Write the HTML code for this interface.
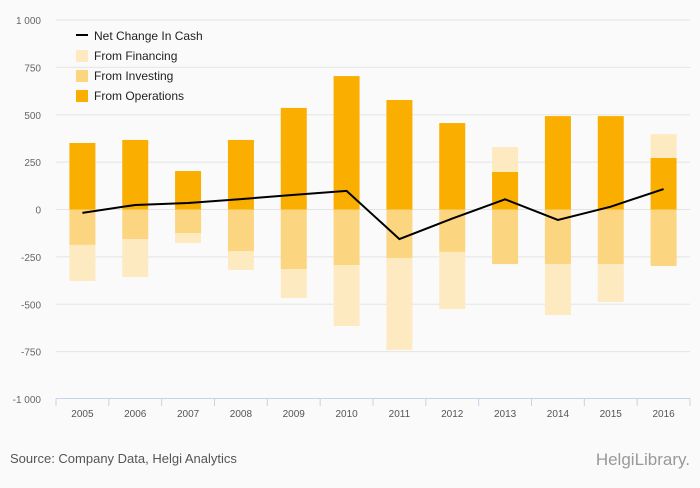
<!DOCTYPE html>
<html><head><meta charset="utf-8"><style>
body{margin:0;background:#fafafa;font-family:"Liberation Sans",sans-serif;}
svg text{font-family:"Liberation Sans",sans-serif;}
</style></head><body>
<svg id="chart" width="700" height="483" xmlns="http://www.w3.org/2000/svg">
<rect width="700" height="483" fill="#fafafa"/>
<g id="grid"></g><g id="bars"></g><g id="line"></g><g id="axes"></g>
<g>
<line x1="76" y1="35" x2="88" y2="35" stroke="#000" stroke-width="2"/>
<text x="94" y="40" font-size="12" fill="#222">Net Change In Cash</text>
<rect x="76" y="50" width="12" height="12" fill="#feeac0"/>
<text x="94" y="60" font-size="12" fill="#222">From Financing</text>
<rect x="76" y="70" width="12" height="12" fill="#fcd581"/>
<text x="94" y="80" font-size="12" fill="#222">From Investing</text>
<rect x="76" y="90" width="12" height="12" fill="#f9ae00"/>
<text x="94" y="100" font-size="12" fill="#222">From Operations</text>
</g>
<text x="10" y="463" font-size="13" fill="#555">Source: Company Data, Helgi Analytics</text>
<text x="690" y="465" font-size="17" fill="#999" text-anchor="end" font-family="Liberation Serif">HelgiLibrary.</text>
</svg>
<script>
const years=["2005","2006","2007","2008","2009","2010","2011","2012","2013","2014","2015","2016"];
const operations=[351,367,203,367,536,704,578,456,198,493,493,272];
const investing=[-187,-156,-124,-219,-314,-293,-256,-224,-288,-288,-288,-298];
const financing=[-190,-200,-53,-100,-153,-322,-485,-301,132,-269,-200,126];
const netChange=[-18,24,34,55,77,98,-156,-48,54,-55,15,108];
const yTicks=[1000,750,500,250,0,-250,-500,-750,-1000];
const tickLabels=["1 000","750","500","250","0","-250","-500","-750","-1 000"];

const NS="http://www.w3.org/2000/svg";
const x0=56,x1=690,yZero=209.5,pxPer=0.1895;
const band=(x1-x0)/years.length,bw=26;
function y(v){return yZero-v*pxPer;}
function xc(i){return x0+band*(i+0.5);}
function mk(tag,attrs,parent){const e=document.createElementNS(NS,tag);for(const k in attrs)e.setAttribute(k,attrs[k]);parent.appendChild(e);return e;}
const grid=document.getElementById('grid'),bars=document.getElementById('bars'),line=document.getElementById('line'),axes=document.getElementById('axes');
yTicks.forEach((t,i)=>{
 if(t!==-1000){const l=mk('line',{x1:x0,x2:x1,y1:y(t),y2:y(t),stroke:'#e4e4e4','stroke-width':1},grid);
 
 }
 const tx=mk('text',{x:41,y:y(t)+4,'font-size':10,fill:'#666','text-anchor':'end'},axes);
 tx.textContent=tickLabels[i];
 
 
});
function seg(i,a,b,color,name){
 const r=mk('rect',{x:xc(i)-bw/2,y:Math.min(y(a),y(b)),width:bw,height:Math.abs(y(a)-y(b)),fill:color},bars);
 
 
}
years.forEach((yr,i)=>{
 let pos=0,neg=0;
 [[operations[i],'#f9ae00','bar-operations'],[investing[i],'#fcd581','bar-investing'],[financing[i],'#feeac0','bar-financing']].forEach(([v,c,n])=>{
  if(v>=0){seg(i,pos,pos+v,c,n);pos+=v;}else{seg(i,neg,neg+v,c,n);neg+=v;}
 });
});
const pts=netChange.map((v,i)=>xc(i)+','+y(v)).join(' ');
const pl=mk('polyline',{points:pts,fill:'none',stroke:'#000','stroke-width':2},line);


const ax=mk('line',{x1:x0,x2:x1,y1:398.5,y2:398.5,stroke:'#c6d3ea','stroke-width':1},axes);


for(let i=0;i<=years.length;i++){
 const tk=mk('line',{x1:x0+band*i,x2:x0+band*i,y1:398.5,y2:406,stroke:'#c6d3ea'},axes);
 
 
}
years.forEach((yr,i)=>{
 const t=mk('text',{x:xc(i),y:417,'font-size':10,fill:'#555','text-anchor':'middle'},axes);
 t.textContent=yr;
 
 
});
</script>
</body></html>
